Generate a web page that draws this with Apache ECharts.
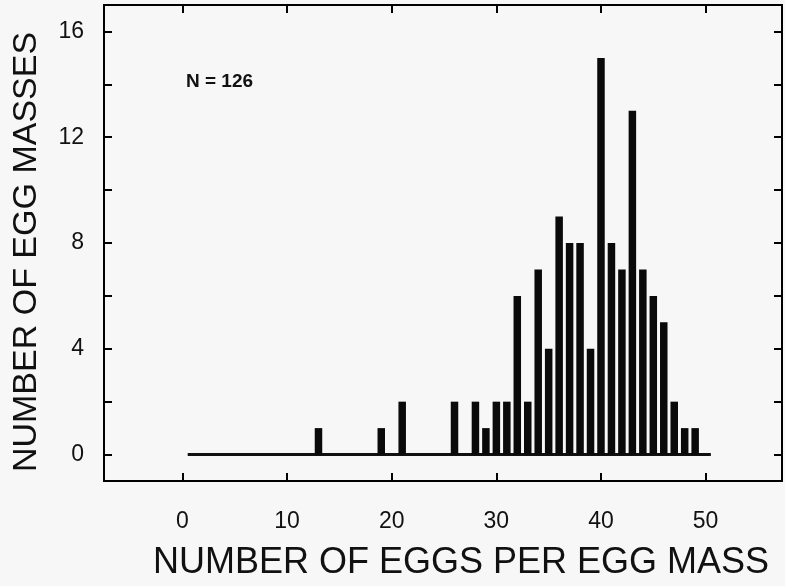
<!DOCTYPE html>
<html>
<head>
<meta charset="utf-8">
<script src="https://cdn.jsdelivr.net/npm/echarts@6/dist/echarts.min.js"></script>
<style>
  html, body { margin: 0; padding: 0; background: #f7f7f7; }
  #main { width: 785px; height: 586px; }
</style>
</head>
<body>
<div id="main"></div>
<script>
// eggs per egg mass (x) and number of egg masses (y)
var eggCounts = [13, 19, 21, 26, 28, 29, 30, 31, 32, 33, 34, 35, 36, 37, 38, 39, 40, 41, 42, 43, 44, 45, 46, 47, 48, 49];
var massCounts = [1, 1, 2, 2, 2, 1, 2, 2, 6, 2, 7, 4, 9, 8, 8, 4, 15, 8, 7, 13, 7, 6, 5, 2, 1, 1];
var baseRange = [0.5, 50.5]; // zero line under the bars
var xTicks = [0, 10, 20, 30, 40, 50];
var yTicks = [0, 2, 4, 6, 8, 10, 12, 14, 16];
var yLabels = [0, 4, 8, 12, 16];

var chart = echarts.init(document.getElementById('main'));

var barData = [];
for (var i = 0; i < eggCounts.length; i++) {
  barData.push([eggCounts[i], massCounts[i]]);
}

var font = 'Liberation Sans, Arial, sans-serif';
var tick = { show: true, inside: true, length: 8, lineStyle: { color: '#000', width: 2 } };
var noLine = { show: false, onZero: false };

var option = {
  backgroundColor: '#f7f7f7',
  animation: false,
  title: {
    text: 'N = 126',
    left: 181,
    top: 67,
    textStyle: { fontFamily: font, fontSize: 19, fontWeight: 'bold', color: '#111' }
  },
  grid: {
    left: 104, right: 3, top: 5, bottom: 105,
    show: true, borderColor: '#000', borderWidth: 2, backgroundColor: 'transparent'
  },
  xAxis: [{
    type: 'value', min: -7.5, max: 57.3,
    axisLine: noLine,
    axisTick: Object.assign({ customValues: xTicks }, tick),
    splitLine: { show: false },
    axisLabel: { customValues: xTicks, margin: 29, fontSize: 23, fontFamily: font, color: '#111' },
    name: 'NUMBER OF EGGS PER EGG MASS',
    nameLocation: 'middle',
    nameGap: 64,
    nameTextStyle: { fontFamily: font, fontSize: 36, color: '#111', padding: [0, 0, 0, 36] }
  }, {
    type: 'value', min: -7.5, max: 57.3, position: 'top',
    axisLine: noLine,
    axisTick: Object.assign({ customValues: xTicks }, tick),
    splitLine: { show: false },
    axisLabel: { show: false }
  }],
  yAxis: [{
    type: 'value', min: -1, max: 17,
    axisLine: noLine,
    axisTick: Object.assign({ customValues: yTicks }, tick),
    splitLine: { show: false },
    axisLabel: { customValues: yLabels, margin: 20, fontSize: 23, fontFamily: font, color: '#111' },
    name: 'NUMBER OF EGG MASSES',
    nameLocation: 'middle',
    nameGap: 60,
    nameTextStyle: { fontFamily: font, fontSize: 34, color: '#111', padding: [0, 18, 0, 0] }
  }, {
    type: 'value', min: -1, max: 17, position: 'right',
    axisLine: noLine,
    axisTick: Object.assign({ customValues: yTicks }, tick),
    splitLine: { show: false },
    axisLabel: { show: false }
  }],
  series: [{
    type: 'line',
    data: [[baseRange[0], 0], [baseRange[1], 0]],
    symbol: 'none',
    lineStyle: { color: '#111', width: 3 },
    z: 1
  }, {
    type: 'bar',
    data: barData,
    barWidth: 7.5,
    itemStyle: { color: '#0a0a0a' },
    z: 2
  }]
};

chart.setOption(option);
</script>
</body>
</html>
